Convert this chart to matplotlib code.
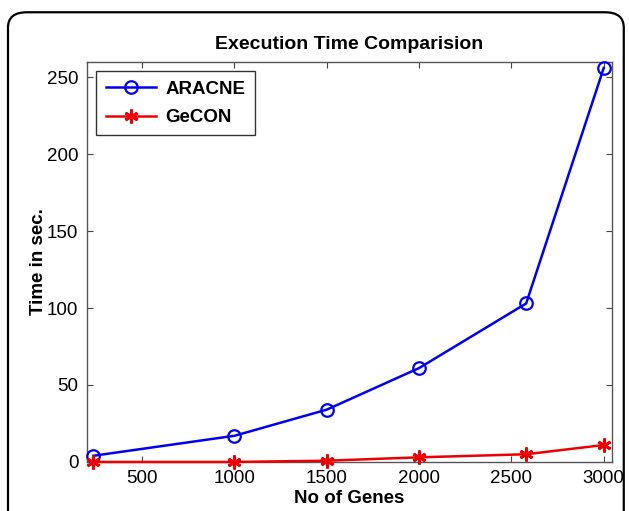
import matplotlib
matplotlib.use("Agg")
import matplotlib.pyplot as plt
from matplotlib.patches import FancyBboxPatch

genes = [235, 1000, 1500, 2000, 2580, 3000]
aracne = [4, 17, 34, 61, 103, 256]
gecon = [0, 0, 0.8, 3, 5, 11]
xticks = [500, 1000, 1500, 2000, 2500, 3000]
yticks = [0, 50, 100, 150, 200, 250]

plt.rcParams["font.family"] = ["Liberation Sans", "DejaVu Sans"]

fig = plt.figure(figsize=(6.29, 5.11), dpi=100)
# rounded frame around the figure, open at the bottom
frame = FancyBboxPatch((0.0127, -0.05), 0.979, 1.026,
                       boxstyle="round,pad=0,rounding_size=0.03",
                       transform=fig.transFigure, fill=False,
                       edgecolor="black", linewidth=1.6)
fig.patches.append(frame)

ax = fig.add_axes([0.138, 0.096, 0.835, 0.783])
ax.plot(genes, aracne, color="#0000ee", linewidth=1.8, marker="o",
        markersize=9, markerfacecolor="none", markeredgewidth=1.6,
        label="ARACNE", clip_on=False, zorder=3)
ax.plot(genes, gecon, color="#ee0000", linewidth=1.8, marker=(6, 2, 0),
        markersize=10, markeredgewidth=2, label="GeCON", clip_on=False, zorder=3)

ax.set_xlim(200, 3045)
ax.set_ylim(0, 260)
ax.set_xticks(xticks)
ax.set_yticks(yticks)
ax.tick_params(direction="in", top=True, right=True, length=4,
               labelsize=13.5, color="#444444", pad=6)
for s in ax.spines.values():
    s.set_color("#555555")
    s.set_linewidth(1.0)

ax.set_title("Execution Time Comparision", fontsize=14, fontweight="bold", pad=9)
ax.set_xlabel("No of Genes", fontsize=13.5, fontweight="bold", labelpad=2)
ax.set_ylabel("Time in sec.", fontsize=13.5, fontweight="bold", labelpad=0)

leg = ax.legend(loc="upper left", prop={"weight": "bold", "size": 13.5},
                handlelength=2.7, handletextpad=0.5, fancybox=False, framealpha=1,
                borderaxespad=0.5, labelspacing=0.6, borderpad=0.5)
leg.get_frame().set_edgecolor("#333333")
leg.get_frame().set_linewidth(1.0)

fig.savefig("out.png", dpi=100)
